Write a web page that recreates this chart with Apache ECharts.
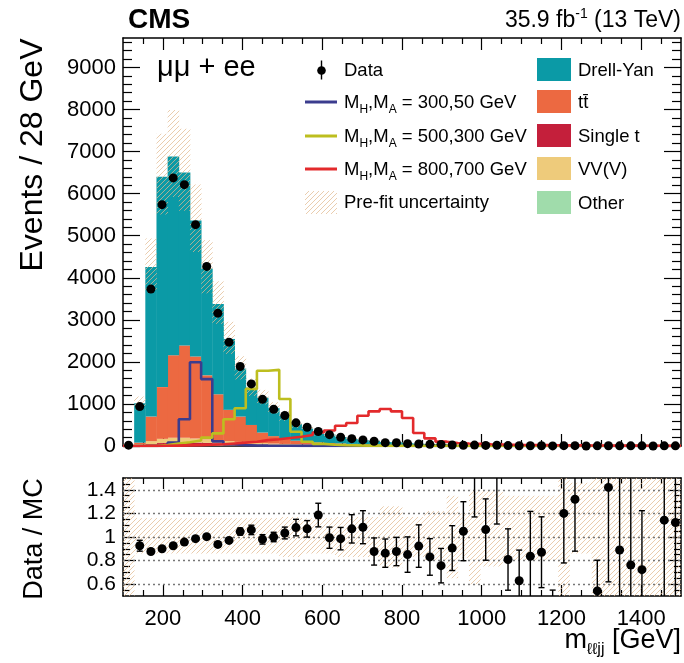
<!DOCTYPE html>
<html><head><meta charset="utf-8">
<script src="https://cdn.jsdelivr.net/npm/echarts@6/dist/echarts.min.js"></script>
<style>html,body{margin:0;padding:0;background:#fff}#c{width:684px;height:663px}</style>
</head><body><div id="c"></div>
<script>
// ---------------- data ----------------
const binEdges = [100,128,156,184,212,240,268,296,324,352,380,408,436,464,492,520,548,576,604,632,660,688,716,744,772,800,828,856,884,912,940,968,996,1024,1052,1080,1108,1136,1164,1192,1220,1248,1276,1304,1332,1360,1388,1416,1444,1472,1500];
const dataCounts = [20,937,3730,5738,6373,6214,5262,4270,3159,2468,1889,1476,1110,875,725,550,445,345,270,208,175,145,112,79,78,56,48,40,38,25,19,22,14,19,9,6,7,7,2,8,8,0,3,6,4,3,3,0,3,3];
const dyYield = [0,934,3554,5000,4725,4110,3230,2540,2145,1685,1140,885,830,665,550,393,312,205,202,152,115,93,90,62,63,44,35,32,35,16,7,3,4,3,4,3,2,3,3,2.5,2,2.5,2,1.5,1,0.8,1.5,1.2,1,0.8];
const ttYield = [0,45,585,1230,1965,2195,1953,1520,1092,745,603,418,251,177,121,86,68,56,44,38,30,24,20,16,13,11,9,8,7,6,5,5,4,4,3,3,3,2,2,2,2,1,1,1,1,1,1,1,1,1];
const singleTopYield = [0,10,30,50,60,65,60,55,48,40,35,30,25,20,17,14,12,10,9,8,7,6,5,5,4,4,3,3,3,2,2,2,2,2,1,1,1,1,1,1,1,1,1,1,1,1,0,0,0,0];
const vvYield = [0,20,70,100,110,105,95,85,72,60,50,42,35,30,25,21,18,15,13,11,10,9,8,7,6,5,5,4,4,3,3,3,2,2,2,2,2,1,1,1,1,1,1,1,1,1,1,1,1,1];
const otherYield = [0,5,15,20,25,25,22,20,18,15,12,10,9,8,7,6,5,4,4,3,3,3,2,2,2,2,1,1,1,1,1,1,1,1,1,1,1,1,0,0,0,0,0,0,0,0,0,0,0,0];
const sig300_50 = [0,0,0,10,80,635,1990,1590,110,40,20,12,8,6,5,4,3,3,2,2,2,1,1,1,1,1,1,1,1,1,0,0,0,0,0,0,0,0,0,0,0,0,0,0,0,0,0,0,0,0];
const sig500_300 = [0,0,0,20,60,90,130,200,300,635,897,1357,1790,1810,1117,340,102,50,30,20,15,10,8,6,5,4,3,3,2,2,2,1,1,1,1,1,1,1,1,1,0,0,0,0,0,0,0,0,0,0];
const sig800_700 = [0,0,0,5,10,15,20,30,40,60,80,100,140,160,190,220,260,320,370,480,546,720,824,880,824,665,309,182,103,71,60,50,40,35,30,25,22,20,18,16,14,12,11,10,9,8,7,6,5,5];
const ratioVals = [null,0.926,0.877,0.90,0.926,0.957,0.986,1.003,0.937,0.971,1.046,1.06,0.98,1.0,1.034,1.08,1.069,1.186,0.994,0.986,1.069,1.083,0.877,0.863,0.877,0.851,0.923,0.831,0.757,0.906,1.049,1.6,1.063,1.6,0.809,0.629,0.837,0.871,0.3,1.2,1.32,null,0.543,1.42,0.89,0.763,0.723,null,1.143,1.123];
const ratioErrs = [0,0.046,0.02,0.015,0.015,0.015,0.015,0.015,0.02,0.02,0.03,0.04,0.04,0.04,0.05,0.07,0.07,0.1,0.09,0.095,0.12,0.14,0.115,0.12,0.12,0.15,0.18,0.155,0.146,0.19,0.25,0.43,0.26,0.49,0.26,0.26,0.38,0.3,0.25,0.42,0.44,0,0.26,0.8,0.8,0.75,0.5,0,0.8,0.8];
const bandLo = [0,0.86,0.86,0.86,0.86,0.86,0.86,0.86,0.86,0.86,0.86,0.86,0.86,0.86,0.83,0.83,0.86,0.86,0.86,0.83,0.83,0.83,0.83,0.74,0.74,0.83,0.83,0.8,0.8,0.65,0.82,0.6,0.75,0.75,0.8,0.8,0.8,0.8,0.8,0,0.86,0.86,0,0,0,0,0,0,0,0];
const bandHi = [2,1.16,1.16,1.16,1.16,1.16,1.16,1.16,1.16,1.16,1.16,1.16,1.16,1.16,1.17,1.17,1.16,1.16,1.16,1.17,1.17,1.17,1.17,1.26,1.26,1.17,1.17,1.22,1.22,1.35,1.2,1.4,1.4,1.4,1.35,1.35,1.35,1.35,1.35,2,1.46,1.46,2,2,2,2,2,2,2,2];
const xMajorTicks = [200,400,600,800,1000,1200,1400];
const yMajorTicksTop = [0,1000,2000,3000,4000,5000,6000,7000,8000,9000];
const yMajorTicksRatio = [0.6,0.8,1,1.2,1.4];

// ---------------- style ----------------
const FONT = "'Liberation Sans', Arial, Helvetica, sans-serif";
const COL = {dy:'#0b9aa6', tt:'#ec6941', st:'#c41f3b', vv:'#eecb7b', other:'#a0dcab',
  s1:'#3b3c8e', s2:'#bdbe1f', s3:'#e32a2c', hatch:'rgba(226,186,142,0.8)'};

function hatch() {
  const s = 5, c = document.createElement('canvas'); c.width = s; c.height = s;
  const g = c.getContext('2d'); g.strokeStyle = COL.hatch; g.lineWidth = 0.9;
  g.beginPath();
  g.moveTo(0, s); g.lineTo(s, 0);
  g.moveTo(-s, s); g.lineTo(s, -s);
  g.moveTo(0, 2*s); g.lineTo(2*s, 0);
  g.stroke();
  return {image: c, repeat: 'repeat'};
}
const HATCH = hatch();

// minor ticks
const xMinor = []; for (let v = 150; v < 1500; v += 50) if (v % 200 !== 0) xMinor.push(v);
const yMinorTop = []; for (let v = 200; v < 9700; v += 200) if (v % 1000 !== 0) yMinorTop.push(v);
const yMinorRatio = []; for (let k = 11; k < 30; k++) if (k % 4 !== 0) yMinorRatio.push(k * 0.05);

function axis(gridIndex, position, min, max, ticks, len, showLine, labelOpts) {
  return {
    type: 'value', gridIndex, position, min, max,
    axisLine: {show: showLine, onZero: false, lineStyle: {color: '#000', width: 1.5}},
    axisTick: {show: true, inside: true, length: len, customValues: ticks, lineStyle: {color: '#000', width: 1.2}},
    axisLabel: labelOpts ? Object.assign({show: true, customValues: ticks, color: '#000', fontFamily: FONT}, labelOpts) : {show: false},
    splitLine: {show: false}, minorTick: {show: false}, minorSplitLine: {show: false}
  };
}

const xAxes = [
  axis(0, 'bottom', 100, 1500, xMajorTicks, 12, true),
  axis(0, 'bottom', 100, 1500, xMinor, 6, false),
  axis(0, 'top', 100, 1500, xMajorTicks, 12, true),
  axis(0, 'top', 100, 1500, xMinor, 6, false),
  axis(1, 'bottom', 100, 1500, xMajorTicks, 11, true, {fontSize: 22, margin: 12, formatter: v => String(v)}),
  axis(1, 'bottom', 100, 1500, xMinor, 6, false),
  axis(1, 'top', 100, 1500, xMajorTicks, 11, true),
  axis(1, 'top', 100, 1500, xMinor, 6, false)
];
const yAxes = [
  axis(0, 'left', 0, 9700, yMajorTicksTop, 17, true, {fontSize: 22, margin: 7, formatter: v => String(v)}),
  axis(0, 'left', 0, 9700, yMinorTop, 9, false),
  axis(0, 'right', 0, 9700, yMajorTicksTop, 17, true),
  axis(0, 'right', 0, 9700, yMinorTop, 9, false),
  axis(1, 'left', 0.5, 1.5, yMajorTicksRatio, 13, true, {fontSize: 21, margin: 7, formatter: v => String(+(+v).toFixed(1))}),
  axis(1, 'left', 0.5, 1.5, yMinorRatio, 7, false),
  axis(1, 'right', 0.5, 1.5, yMajorTicksRatio, 13, true),
  axis(1, 'right', 0.5, 1.5, yMinorRatio, 7, false)
];

function rectSeries(name, xi, yi, items, fill, z) {
  return {
    type: 'custom', name, xAxisIndex: xi, yAxisIndex: yi, z, clip: true, silent: true,
    data: items, encode: {x: [0, 1], y: [2, 3]},
    renderItem(params, api) {
      const a = api.coord([api.value(0), api.value(2)]);
      const b = api.coord([api.value(1), api.value(3)]);
      return {type: 'rect', shape: {x: a[0], y: b[1], width: b[0] - a[0] + 0.4, height: a[1] - b[1]}, style: {fill}};
    }
  };
}

const nb = dataCounts.length;
const centers = []; for (let i = 0; i < nb; i++) centers.push((binEdges[i] + binEdges[i + 1]) / 2);

// stacked backgrounds (bottom -> top)
const stackDefs = [['Other', otherYield, COL.other], ['Single t', singleTopYield, COL.st], ['VV(V)', vvYield, COL.vv], ['tt', ttYield, COL.tt], ['Drell-Yan', dyYield, COL.dy]];
const base = new Array(nb).fill(0);
const series = [];
stackDefs.forEach(([name, arr, col], k) => {
  const items = [];
  for (let i = 0; i < nb; i++) { if (arr[i] > 0) items.push([binEdges[i], binEdges[i + 1], base[i], base[i] + arr[i]]); base[i] += arr[i]; }
  series.push(rectSeries(name, 0, 0, items, col, 2 + k));
});
const total = base.slice();
// uncertainty band (top)
const bandTop = [];
for (let i = 0; i < nb; i++) if (total[i] > 0) bandTop.push([binEdges[i], binEdges[i + 1], total[i] * bandLo[i], total[i] * bandHi[i]]);
series.push(rectSeries('Pre-fit uncertainty', 0, 0, bandTop, HATCH, 8));

// signal step lines
function stepLine(name, arr, col) {
  const d = []; for (let i = 0; i < nb; i++) d.push([binEdges[i], arr[i]]); d.push([binEdges[nb], arr[nb - 1]]);
  return {type: 'line', name, xAxisIndex: 0, yAxisIndex: 0, step: 'end', data: d, showSymbol: false, symbol: 'none',
    lineStyle: {color: col, width: 2.6}, z: 10, silent: true};
}
series.push(stepLine('300,50', sig300_50, COL.s1));
series.push(stepLine('500,300', sig500_300, COL.s2));
series.push(stepLine('800,700', sig800_700, COL.s3));

// data points (top)
series.push({type: 'scatter', name: 'Data', xAxisIndex: 0, yAxisIndex: 0, clip: false, z: 12, silent: true,
  symbolSize: 9, itemStyle: {color: '#000', opacity: 1}, data: centers.map((c, i) => [c, dataCounts[i]])});

// ratio band
const bandR = [];
for (let i = 0; i < nb; i++) bandR.push([binEdges[i], binEdges[i + 1], bandLo[i], bandHi[i]]);
const bandRatioSeries = rectSeries('band ratio', 4, 4, bandR, HATCH, 3);
bandRatioSeries.markLine = {silent: true, symbol: 'none', label: {show: false}, animation: false,
  lineStyle: {color: '#777', type: [2, 3], width: 1.4}, data: yMajorTicksRatio.map(v => ({yAxis: v}))};
series.push(bandRatioSeries);

// ratio error bars
const errItems = [];
for (let i = 0; i < nb; i++) if (ratioVals[i] !== null && ratioErrs[i] > 0) errItems.push([centers[i], ratioVals[i] - ratioErrs[i], ratioVals[i] + ratioErrs[i]]);
series.push({type: 'custom', name: 'ratio err', xAxisIndex: 4, yAxisIndex: 4, clip: true, z: 10, silent: true,
  data: errItems, encode: {x: 0, y: [1, 2]},
  renderItem(params, api) {
    const lo = api.coord([api.value(0), api.value(1)]), hi = api.coord([api.value(0), api.value(2)]);
    const st = {stroke: '#000', lineWidth: 1.4};
    return {type: 'group', children: [
      {type: 'line', shape: {x1: lo[0], y1: lo[1], x2: hi[0], y2: hi[1]}, style: st},
      {type: 'line', shape: {x1: lo[0] - 3, y1: lo[1], x2: lo[0] + 3, y2: lo[1]}, style: st},
      {type: 'line', shape: {x1: hi[0] - 3, y1: hi[1], x2: hi[0] + 3, y2: hi[1]}, style: st}
    ]};
  }});
series.push({type: 'scatter', name: 'Data/MC', xAxisIndex: 4, yAxisIndex: 4, clip: true, z: 12, silent: true,
  symbolSize: 9, itemStyle: {color: '#000', opacity: 1},
  data: centers.map((c, i) => [c, ratioVals[i]]).filter(d => d[1] !== null)});

// ---------------- texts & legend ----------------
const mctx = document.createElement('canvas').getContext('2d');
function tw(t, s, w) { mctx.font = (w || 'normal') + ' ' + s + 'px ' + FONT; return mctx.measureText(t).width; }
function line(x, y, parts, align) {
  const total = parts.reduce((a, p) => a + tw(p.t, p.s, p.w), 0);
  let cx = align === 'right' ? x - total : x;
  return parts.map(p => {
    const el = {type: 'text', x: cx, y: y + (p.dy || 0), silent: true,
      style: {text: p.t, fontSize: p.s, fontFamily: FONT, fontWeight: p.w || 'normal', fill: '#000', textVerticalAlign: 'middle', verticalAlign: 'middle'}};
    cx += tw(p.t, p.s, p.w); return el;
  });
}
const LF = 18.5;
const g = [];
g.push(...line(128, 20, [{t: 'CMS', s: 28, w: 'bold'}]));
g.push(...line(681, 21, [{t: '35.9 fb', s: 23}, {t: '-1', s: 14, dy: -7}, {t: ' (13 TeV)', s: 23}], 'right'));
g.push(...line(157, 68, [{t: 'μμ + ee', s: 29}]));
g.push({type: 'text', x: 33, y: 155, rotation: Math.PI / 2, silent: true,
  style: {text: 'Events / 28 GeV', fontSize: 32, fontFamily: FONT, fill: '#000', textAlign: 'center', align: 'center', textVerticalAlign: 'middle', verticalAlign: 'middle'}});
g.push({type: 'text', x: 35, y: 539, rotation: Math.PI / 2, silent: true,
  style: {text: 'Data / MC', fontSize: 27, fontFamily: FONT, fill: '#000', textAlign: 'center', align: 'center', textVerticalAlign: 'middle', verticalAlign: 'middle'}});
g.push(...line(681, 641, [{t: 'm', s: 27}, {t: 'ℓℓjj', s: 16, dy: 9}, {t: ' [GeV]', s: 27}], 'right'));

// legend column 1
g.push({type: 'line', shape: {x1: 321.5, y1: 60.5, x2: 321.5, y2: 79.5}, style: {stroke: '#000', lineWidth: 1.4}, silent: true});
g.push({type: 'circle', shape: {cx: 321.5, cy: 70.5, r: 4.3}, style: {fill: '#000'}, silent: true});
g.push(...line(344, 71, [{t: 'Data', s: LF}]));
const sigLeg = [['300,50', COL.s1, 102], ['500,300', COL.s2, 136], ['800,700', COL.s3, 169]];
sigLeg.forEach(([m, col, y]) => {
  g.push({type: 'line', shape: {x1: 305, y1: y, x2: 337, y2: y}, style: {stroke: col, lineWidth: 3}, silent: true});
  g.push(...line(344, y + 1, [{t: 'M', s: LF}, {t: 'H', s: 12, dy: 7}, {t: ',M', s: LF}, {t: 'A', s: 12, dy: 7}, {t: ' = ' + m + ' GeV', s: LF}]));
});
g.push({type: 'rect', shape: {x: 305, y: 191, width: 32, height: 23}, style: {fill: HATCH}, silent: true});
g.push(...line(344, 203, [{t: 'Pre-fit uncertainty', s: LF}]));
// legend column 2
const bkgLeg = [['Drell-Yan', COL.dy, 70], ['tt̄', COL.tt, 102], ['Single t', COL.st, 136], ['VV(V)', COL.vv, 169], ['Other', COL.other, 203]];
bkgLeg.forEach(([name, col, y]) => {
  g.push({type: 'rect', shape: {x: 537, y: y - 12, width: 34, height: 23}, style: {fill: col}, silent: true});
  g.push(...line(578, y + 1, [{t: name, s: LF}]));
});

const chart = echarts.init(document.getElementById('c'));
chart.setOption({
  animation: false,
  backgroundColor: '#fff',
  grid: [{left: 123, top: 38, width: 558, height: 408}, {left: 123, top: 478, width: 558, height: 118}],
  xAxis: xAxes, yAxis: yAxes,
  series,
  graphic: g
});
</script></body></html>
